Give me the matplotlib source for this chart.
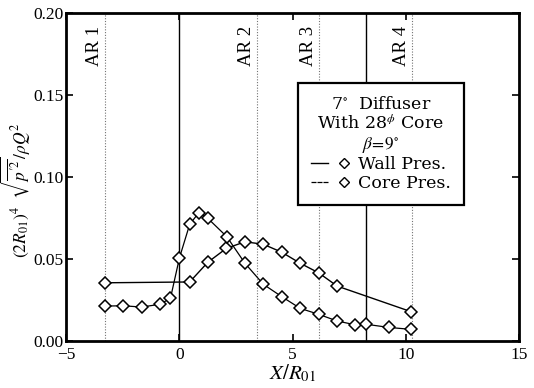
import numpy as np
import matplotlib
matplotlib.use("Agg")
import matplotlib.pyplot as plt
from matplotlib.lines import Line2D
from matplotlib.legend_handler import HandlerTuple

# values
core_x = [-3.28, -2.48, -1.66, -0.86, -0.39, 0.01, 0.46, 0.86, 1.26, 2.10,
          2.90, 3.71, 4.53, 5.34, 6.15, 6.97, 7.76, 8.26, 9.24, 10.23]
core_y = [0.0213, 0.0215, 0.0207, 0.0224, 0.0260, 0.0508, 0.0711, 0.0782, 0.0748, 0.0636,
          0.0474, 0.0346, 0.0270, 0.0199, 0.0163, 0.0122, 0.0099, 0.0102, 0.0083, 0.0071]
wall_x = [-3.28, 0.46, 1.26, 2.08, 2.90, 3.71, 4.53, 5.34, 6.15, 6.97, 10.23]
wall_y = [0.0355, 0.0360, 0.0480, 0.0565, 0.0605, 0.0590, 0.0541, 0.0474, 0.0416, 0.0335, 0.0179]

solid_lines = [0.0, 8.26]
ar_pos = [-3.28, 3.45, 6.18, 10.27]
ar_labels = ["AR 1", "AR 2", "AR 3", "AR 4"]

plt.rcParams['font.family'] = ['Liberation Serif', 'DejaVu Serif']
plt.rcParams['mathtext.fontset'] = 'stix'
plt.rcParams['font.size'] = 12.5

fig = plt.figure(figsize=(5.34, 3.88), dpi=100)
ax = fig.add_axes([0.1236, 0.1211, 0.8484, 0.8454])

for xv in solid_lines:
    ax.axvline(xv, color='k', lw=1.0, zorder=1)
for xv, lab in zip(ar_pos, ar_labels):
    ax.axvline(xv, color='0.45', lw=0.8, ls=(0, (1, 1.5)), zorder=1)
    ax.text(xv - 0.48, 0.192, lab, rotation=90, ha='center', va='top', fontsize=13.5)

mk = dict(marker='D', ms=6.5, mfc='white', mec='k', mew=1.1)
ax.plot(wall_x, wall_y, color='k', lw=1.0, zorder=3, **mk)
ax.plot(core_x, core_y, color='k', lw=0.9, zorder=3, **mk)

ax.set_xlim(-5, 15)
ax.set_ylim(0, 0.2)
ax.set_xticks([-5, 0, 5, 10, 15])
ax.set_yticks([0.0, 0.05, 0.10, 0.15, 0.20])
ax.yaxis.set_major_formatter(matplotlib.ticker.FormatStrFormatter('%.2f'))
ax.tick_params(direction='in', top=True, right=True, length=5, width=1.2)
ax.tick_params(axis='y', pad=2)
ax.tick_params(axis='x', pad=4)
for s in ax.spines.values():
    s.set_linewidth(2)

ax.set_xlabel(r'$X/R_{01}$', fontsize=15, labelpad=0)
fig.text(0.03, 0.51, r'$(2R_{01})^4\ \ \sqrt{\overline{p^{\prime 2}}}/\rho Q^2$',
         rotation=90, ha='center', va='center', fontsize=12.5)

lmk = dict(marker='D', ms=5, mfc='white', mec='k', mew=1.0)
h_wall = (Line2D([], [], color='k', lw=1.0), Line2D([], [], ls='none', **lmk))
h_core = (Line2D([], [], color='k', lw=0.9, ls=(0, (4, 0.8))), Line2D([], [], ls='none', **lmk))
leg = ax.legend([h_wall, h_core], ['Wall Pres.', 'Core Pres.'],
                handler_map={tuple: HandlerTuple(ndivide=None, pad=0.4)},
                title='7$^{\\circ}$  Diffuser\nWith 28$^{\\phi}$ Core\n$\\beta\\!=\\!9^{\\circ}$',
                loc='upper left', bbox_to_anchor=(0.512, 0.787), fancybox=False,
                edgecolor='k', framealpha=1, handlelength=2.4, handletextpad=0.3,
                borderpad=0.75, labelspacing=0.1, borderaxespad=0,
                prop={'family': 'DejaVu Serif', 'size': 12.5},
                title_fontproperties={'family': 'DejaVu Serif', 'size': 12.5})
leg.get_title().set_linespacing(1.1)
leg.get_title().set_multialignment('center')
leg.get_frame().set_linewidth(1.6)
leg.set_zorder(5)

fig.savefig('out.png', dpi=100)
